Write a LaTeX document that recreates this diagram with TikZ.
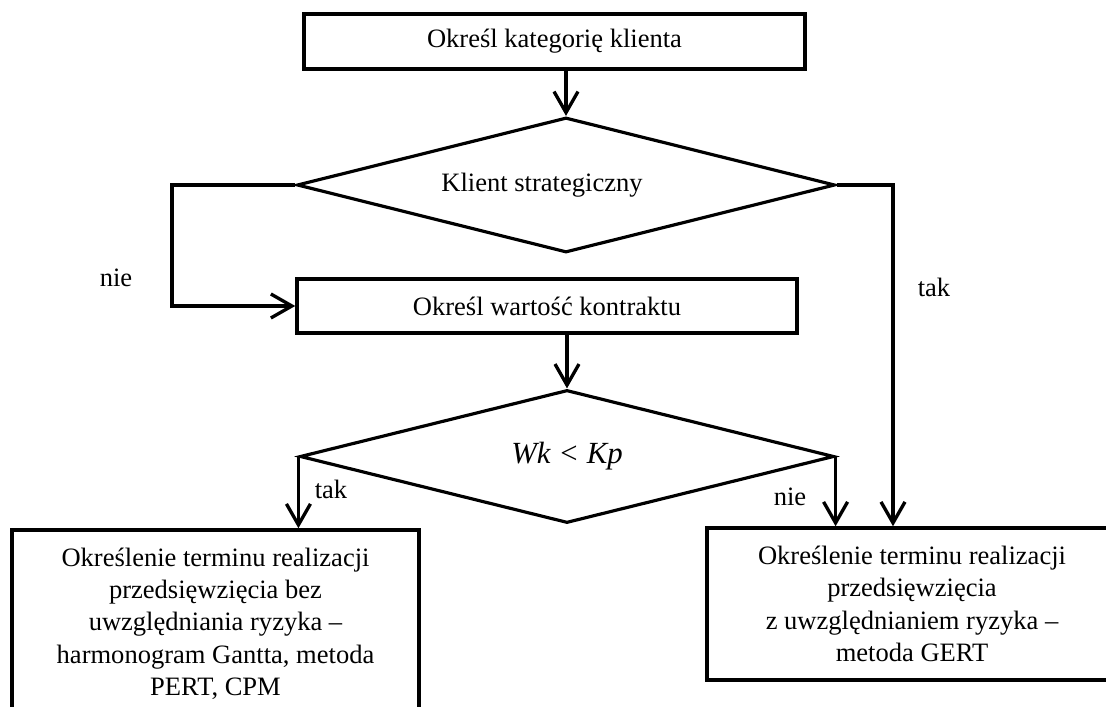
\documentclass[tikz,border=0pt]{standalone}
\usepackage{fontspec}
\setmainfont{Liberation Serif}
\usetikzlibrary{shapes.geometric, arrows.meta}

\begin{document}
\begin{tikzpicture}[
    font=\fontsize{15.1}{18.4}\selectfont,
    blok/.style={draw=black, line width=2pt, align=center, inner sep=0pt},
    decyzja/.style={draw=black, line width=1.8pt, diamond, aspect=4, inner sep=0pt},
    polacz/.style={line width=1.9pt, -{Straight Barb[length=0.42cm, width=0.48cm]}}
]
    \clip (0,0) rectangle (22.12,14.12);

    \node[blok, minimum width=10.02cm, minimum height=1.1cm] (kat) at (11.09,13.29) {Określ kategorię klienta};
    \node[decyzja, minimum width=10.76cm, minimum height=2.7cm,
          label={[xshift=-0.48cm]center:Klient strategiczny}] (klient) at (11.32,10.42) {};
    \node[blok, minimum width=10cm, minimum height=1.08cm] (wart) at (10.94,8.0) {Określ wartość kontraktu};
    \node[decyzja, minimum width=10.68cm, minimum height=2.66cm] (wk) at (11.34,4.99)
        {\fontsize{17.5}{20}\selectfont\itshape Wk < Kp};

    \node[blok, minimum width=8.14cm, minimum height=3.74cm] (bez) at (4.31,1.65)
        {Określenie terminu realizacji\\ przedsięwzięcia bez\\ uwzględniania ryzyka –\\ harmonogram Gantta, metoda\\ PERT, CPM};
    \node[blok, minimum width=8.2cm, minimum height=3.04cm] (gert) at (18.24,2.04)
        {Określenie terminu realizacji\\ przedsięwzięcia\\ z uwzględnianiem ryzyka –\\ metoda GERT};

    % punkty zalaman
    \coordinate (lewy) at (3.44,10.42);
    \coordinate (prawy) at (17.86,10.42);

    \draw[polacz] (klient.north |- kat.south) -- (klient.north);
    \draw[polacz] (klient.west) -- (lewy) |- (wart.west);
    \draw[polacz] (klient.east) -- (prawy) -- (prawy |- gert.north);
    \draw[polacz] (wk.north |- wart.south) -- (wk.north);
    \draw[polacz] (wk.west) -- (wk.west |- bez.north);
    \draw[polacz] (wk.east) -- (wk.east |- gert.north);

    \node (nie1) at (2.32,8.56) {nie};
    \node (tak1) at (18.68,8.38) {tak};
    \node (tak2) at (6.62,4.34) {tak};
    \node (nie2) at (15.8,4.18) {nie};
\end{tikzpicture}
\end{document}
